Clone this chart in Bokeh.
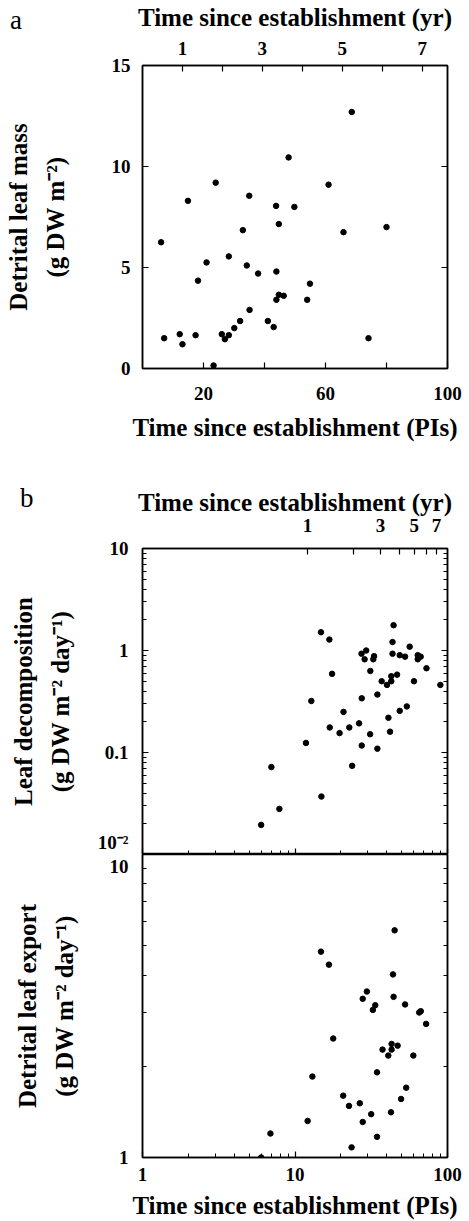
from bokeh.plotting import figure
from bokeh.models import LinearAxis, LogAxis, FixedTicker, Range1d, LogScale, Div
from bokeh.layouts import column
from bokeh.embed import file_html
from bokeh.resources import INLINE

# ---------------- data ----------------
# panel a: detrital leaf mass vs time since establishment (PIs)
a_pi = [68.6, 47.9, 24.0, 61.0, 35.0, 14.9, 43.8, 49.8, 44.7, 80.0, 32.9, 65.9, 6.1,
        28.3, 21.0, 34.2, 37.9, 43.9, 18.2, 54.9, 44.7, 46.3, 43.9, 54.0, 35.1, 32.0,
        41.1, 30.1, 43.0, 12.2, 26.0, 28.3, 17.4, 7.1, 74.1, 27.0, 13.1, 23.3]
a_mass = [12.7, 10.45, 9.2, 9.1, 8.55, 8.3, 8.05, 8.0, 7.15, 7.0, 6.85, 6.75, 6.25,
          5.55, 5.25, 5.1, 4.7, 4.8, 4.35, 4.2, 3.65, 3.6, 3.4, 3.4, 2.9, 2.35,
          2.35, 2.0, 2.05, 1.7, 1.7, 1.65, 1.65, 1.5, 1.5, 1.45, 1.2, 0.15]

# panel b (upper): leaf decomposition
dec_pi = [44.3, 43.6, 56.5, 27.3, 29.3, 28.6, 43.6, 48.6, 52.7, 63.8, 66.7, 63.8, 33.0,
          32.6, 72.8, 31.2, 46.7, 42.8, 42.8, 37.0, 40.1, 60.3, 89.8, 34.7, 27.4,
          12.8, 20.8, 48.6, 54.1, 41.0, 16.9, 22.7, 26.3, 19.6, 31.1, 42.0, 11.8, 27.4, 34.7,
          14.8, 16.8, 17.5, 7.0, 23.7, 14.9, 7.9, 6.0]
dec = [1.77, 1.21, 1.09, 0.93, 1.0, 0.82, 0.93, 0.90, 0.87, 0.90, 0.87, 0.82, 0.88,
       0.82, 0.67, 0.63, 0.58, 0.56, 0.50, 0.50, 0.46, 0.50, 0.46, 0.37, 0.34,
       0.32, 0.25, 0.256, 0.283, 0.219, 0.176, 0.176, 0.193, 0.155, 0.151, 0.160, 0.124, 0.117, 0.109,
       1.51, 1.28, 0.59, 0.072, 0.074, 0.037, 0.028, 0.0195]

# panel b (lower): detrital leaf export
exp_pi = [45.0, 14.8, 16.7, 43.9, 29.6, 27.8, 44.3, 52.7, 33.6, 32.4, 65.2, 66.8, 72.4,
          17.8, 43.0, 47.1, 37.5, 43.0, 40.9, 59.7, 34.5, 13.0, 53.6, 20.7, 49.6, 26.6,
          22.6, 31.6, 42.6, 12.1, 27.8, 6.9, 34.5, 23.5, 6.0]
exp_ = [5.62, 4.78, 4.33, 4.02, 3.53, 3.34, 3.39, 3.20, 3.18, 3.07, 3.01, 3.04, 2.76,
        2.47, 2.37, 2.34, 2.27, 2.27, 2.17, 2.17, 1.91, 1.85, 1.70, 1.60, 1.56, 1.51,
        1.48, 1.39, 1.41, 1.32, 1.31, 1.20, 1.17, 1.08, 1.0]

# tick labels
yr_ticks = [1, 2, 3, 4, 5, 6, 7]
yr_blank = {2: "", 4: "", 6: ""}
a_x_ticks = [20, 40, 60, 80, 100]
a_x_blank = {40: "", 80: ""}
a_y_ticks = [0, 5, 10, 15]
log_x_major = [1, 10, 100]
log_x_minor = [2, 3, 4, 5, 6, 7, 8, 9, 20, 30, 40, 50, 60, 70, 80, 90]
dec_major = [0.01, 0.1, 1, 10]
dec_minor = [0.02, 0.03, 0.04, 0.05, 0.06, 0.07, 0.08, 0.09,
             0.2, 0.3, 0.4, 0.5, 0.6, 0.7, 0.8, 0.9,
             2, 3, 4, 5, 6, 7, 8, 9]
dec_labels = {0.01: "10\u207b\u00b2\n ", 0.1: "0.1", 1: "1", 10: "10"}
exp_major = [1, 10]
exp_minor = [2, 3, 4, 5, 6, 7, 8, 9]
exp_labels = {1: "1", 10: " \n10"}
log_x_labels = {1: "1", 10: "10", 100: "100"}

PI_PER_YR_A = 13.1
PI_PER_YR_B = 12.1

FONT = "Liberation Serif"


def style(ax, std=9, lab_std=8):
    ax.axis_line_color = "black"
    ax.axis_line_width = 1.5
    ax.major_tick_in = 6
    ax.major_tick_out = 0
    ax.minor_tick_in = 4
    ax.minor_tick_out = 0
    ax.major_tick_line_color = "black"
    ax.minor_tick_line_color = "black"
    ax.major_tick_line_width = 1.2
    ax.minor_tick_line_width = 1
    ax.major_label_text_font = FONT
    ax.major_label_text_font_style = "bold"
    ax.major_label_text_color = "black"
    ax.major_label_text_font_size = "19px"
    ax.major_label_standoff = std
    ax.axis_label_text_font = FONT
    ax.axis_label_text_font_style = "bold"
    ax.axis_label_text_font_size = "25px"
    ax.axis_label_text_color = "black"
    ax.axis_label_standoff = lab_std
    ax.axis_label_text_line_height = 1.35


def blank(ax, ticks):
    # an axis that only draws ticks (labels are empty strings)
    style(ax, std=0, lab_std=0)
    ax.major_label_overrides = {t: "" for t in ticks}
    ax.major_label_text_font_size = "2px"


def base(p):
    p.grid.visible = False
    p.outline_line_color = "black"
    p.outline_line_width = 1.5
    p.background_fill_color = "white"
    p.border_fill_color = "white"


def letter(text, left, top):
    return Div(text=text, width=24, height=30,
               styles={"position": "absolute", "left": f"{left}px", "top": f"{top}px",
                       "font-family": FONT, "font-size": "27px", "color": "black",
                       "line-height": "1", "margin": "0", "padding": "0"})


# ---------------- panel a ----------------
pa = figure(width=469, height=470, x_range=Range1d(0, 100), y_range=Range1d(0, 15),
            output_backend="svg", toolbar_location=None,
            min_border_left=142, min_border_right=22, min_border_top=65, min_border_bottom=102)
base(pa)
xa = pa.xaxis[0]
xa.ticker = FixedTicker(ticks=a_x_ticks)
xa.major_label_overrides = a_x_blank
xa.axis_label = "Time since establishment (PIs)"
style(xa, std=18, lab_std=11)
ya = pa.yaxis[0]
ya.ticker = FixedTicker(ticks=a_y_ticks)
ya.axis_label = "Detrital leaf mass\n(g DW m\u207b\u00b2)"
style(ya, std=12, lab_std=40)
ra = LinearAxis(ticker=FixedTicker(ticks=a_y_ticks))
blank(ra, a_y_ticks)
pa.add_layout(ra, "right")
pa.extra_x_ranges = {"yr": Range1d(0, 100 / PI_PER_YR_A)}
ta = LinearAxis(x_range_name="yr", ticker=FixedTicker(ticks=yr_ticks),
                major_label_overrides=yr_blank, axis_label="Time since establishment (yr)")
style(ta, std=11, lab_std=8)
pa.add_layout(ta, "above")
pa.scatter(a_pi, a_mass, size=5.5, color="black")

# ---------------- panel b upper ----------------
pb1 = figure(width=469, height=384, x_axis_type="log", y_axis_type="log",
             x_range=Range1d(1, 100), y_range=Range1d(0.01, 10),
             output_backend="svg", toolbar_location=None,
             min_border_left=142, min_border_right=22, min_border_top=78, min_border_bottom=0)
base(pb1)
xb = pb1.xaxis[0]
xb.ticker = FixedTicker(ticks=log_x_major, minor_ticks=log_x_minor)
blank(xb, log_x_major)
yb = pb1.yaxis[0]
yb.ticker = FixedTicker(ticks=dec_major, minor_ticks=dec_minor)
yb.major_label_overrides = dec_labels
yb.axis_label = "Leaf decomposition\n(g DW m\u207b\u00b2 day\u207b\u00b9)"
style(yb, std=14, lab_std=21)
yb.major_label_text_line_height = 0.05
rb = LogAxis(ticker=FixedTicker(ticks=dec_major, minor_ticks=dec_minor))
blank(rb, dec_major)
pb1.add_layout(rb, "right")
pb1.extra_x_ranges = {"yr": Range1d(1 / PI_PER_YR_B, 100 / PI_PER_YR_B)}
pb1.extra_x_scales = {"yr": LogScale()}
tb = LogAxis(x_range_name="yr", ticker=FixedTicker(ticks=yr_ticks),
             major_label_overrides=yr_blank, axis_label="Time since establishment (yr)")
style(tb, std=17, lab_std=0)
pb1.add_layout(tb, "above")
pb1.scatter(dec_pi, dec, size=5.5, color="black")

# ---------------- panel b lower ----------------
pb2 = figure(width=469, height=367, x_axis_type="log", y_axis_type="log",
             x_range=Range1d(1, 100), y_range=Range1d(1, 10),
             output_backend="svg", toolbar_location=None,
             min_border_left=142, min_border_right=22, min_border_top=0, min_border_bottom=64)
base(pb2)
xc = pb2.xaxis[0]
xc.ticker = FixedTicker(ticks=log_x_major, minor_ticks=log_x_minor)
xc.major_label_overrides = log_x_labels
xc.axis_label = "Time since establishment (PIs)"
style(xc, std=10, lab_std=8)
yc = pb2.yaxis[0]
yc.ticker = FixedTicker(ticks=exp_major, minor_ticks=exp_minor)
yc.major_label_overrides = exp_labels
yc.axis_label = "Detrital leaf export\n(g DW m\u207b\u00b2 day\u207b\u00b9)"
style(yc, std=14, lab_std=29)
yc.major_label_text_line_height = 0.05
rc = LogAxis(ticker=FixedTicker(ticks=exp_major, minor_ticks=exp_minor))
blank(rc, exp_major)
pb2.add_layout(rc, "right")
pb2.scatter(exp_pi, exp_, size=5.5, color="black")

layout = column(pa, pb1, pb2, letter("a", 10, 7), letter("b", 20, 485), spacing=0)
open("out.html", "w").write(file_html(layout, INLINE))
